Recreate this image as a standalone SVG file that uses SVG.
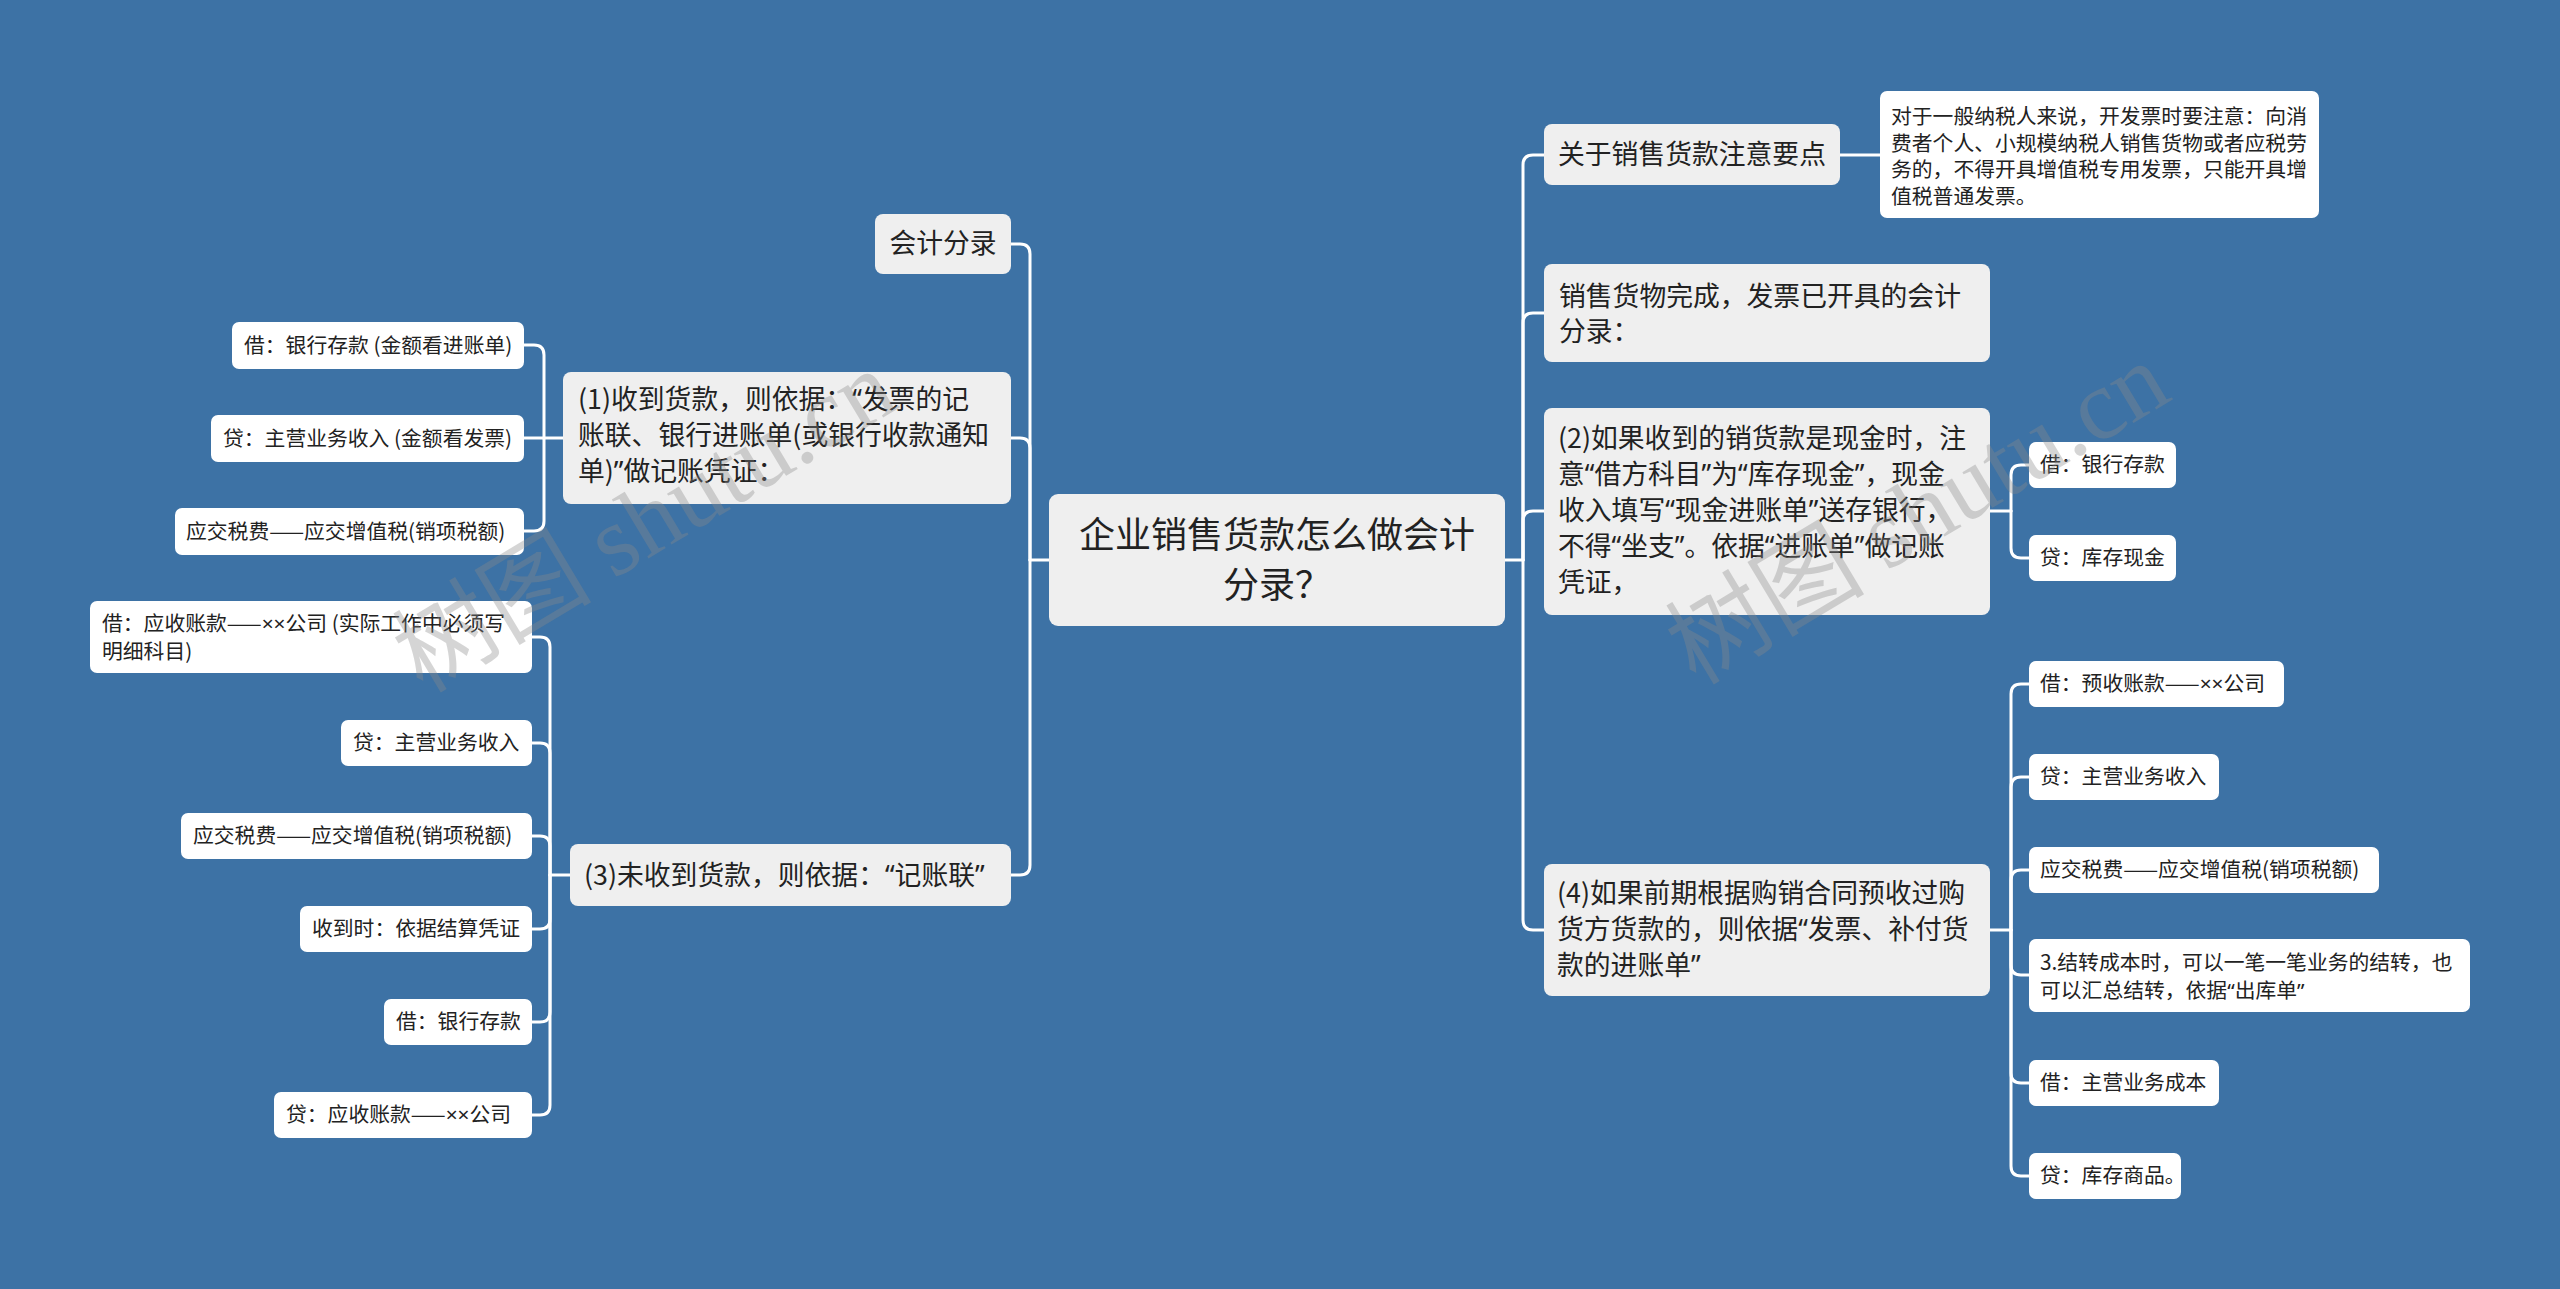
<svg xmlns="http://www.w3.org/2000/svg" width="2560" height="1289" viewBox="0 0 2560 1289">
<style>
  text { font-family: "Noto Sans CJK SC", "Noto Sans", sans-serif; fill: #222; }
  .q { font-family: "Noto Sans", "DejaVu Sans", sans-serif; }
  .bg { fill: #3d72a5; }
  .main rect { fill: #efefef; }
  .leaf rect { fill: #ffffff; }
  .t36 { font-size: 36px; }
  .t26 { font-size: 26.8px; }
  .t21 { font-size: 20.8px; }
  .conn path { fill: none; stroke: #ffffff; stroke-width: 3; stroke-linecap: round; stroke-linejoin: round; }
  .wm { font-size: 100px; fill: #8a8a8a; opacity: 0.35; }
  .wml { font-family: "Liberation Serif", serif; }
</style>
<rect class="bg" x="0" y="0" width="2560" height="1289"/>

<g id="connectors" class="conn">
  <path d="M1049,560 H1030"/>
  <path d="M1030,560 V254 Q1030,244 1020,244 H1011"/>
  <path d="M1030,560 V448 Q1030,438 1020,438 H1011"/>
  <path d="M1030,560 V865 Q1030,875 1020,875 H1011"/>
  <path d="M1505,560 H1523"/>
  <path d="M1523,560 V165 Q1523,155 1533,155 H1544"/>
  <path d="M1523,560 V323 Q1523,313 1533,313 H1544"/>
  <path d="M1523,560 V521 Q1523,511 1533,511 H1544"/>
  <path d="M1523,560 V920 Q1523,930 1533,930 H1544"/>
  <path d="M1840,155 H1880"/>
  <path d="M1990,511 H2011"/>
  <path d="M2011,511 V475 Q2011,465 2021,465 H2029"/>
  <path d="M2011,511 V548 Q2011,558 2021,558 H2029"/>
  <path d="M1990,930 H2011"/>
  <path d="M2011,930 V694 Q2011,684 2021,684 H2029"/>
  <path d="M2011,930 V787 Q2011,777 2021,777 H2029"/>
  <path d="M2011,930 V880 Q2011,870 2021,870 H2029"/>
  <path d="M2011,930 V965 Q2011,975 2021,975 H2029"/>
  <path d="M2011,930 V1073 Q2011,1083 2021,1083 H2029"/>
  <path d="M2011,930 V1166 Q2011,1176 2021,1176 H2029"/>
  <path d="M563,438 H544"/>
  <path d="M544,438 V355 Q544,345 534,345 H524"/>
  <path d="M544,438 H524"/>
  <path d="M544,438 V521 Q544,531 534,531 H524"/>
  <path d="M570,875 H550"/>
  <path d="M550,875 V647 Q550,637 540,637 H532"/>
  <path d="M550,875 V753 Q550,743 540,743 H532"/>
  <path d="M550,875 V846 Q550,836 540,836 H532"/>
  <path d="M550,875 V919 Q550,929 540,929 H532"/>
  <path d="M550,875 V1012 Q550,1022 540,1022 H532"/>
  <path d="M550,875 V1105 Q550,1115 540,1115 H532"/>
</g>

<g id="root" class="main">
  <rect x="1049" y="494" width="456" height="132" rx="9"/>
  <text class="t36" x="1277" y="548" text-anchor="middle">企业销售货款怎么做会计</text>
  <text class="t36" x="1277" y="598" text-anchor="middle">分录？</text>
</g>

<g id="n-kjfl" class="main">
  <rect x="875" y="214" width="136" height="60" rx="8"/>
  <text class="t26" x="943" y="253" text-anchor="middle">会计分录</text>
</g>
<g id="n-1" class="main">
  <rect x="563" y="372" width="448" height="132" rx="8"/>
  <text class="t26" x="578" y="409">(1)收到货款，则依据：<tspan class="q">“</tspan>发票的记</text>
  <text class="t26" x="578" y="445">账联、银行进账单(或银行收款通知</text>
  <text class="t26" x="578" y="481">单)<tspan class="q">”</tspan>做记账凭证：</text>
</g>
<g id="n-1a" class="leaf">
  <rect x="232" y="322" width="292" height="47" rx="7"/>
  <text class="t21" x="244" y="353">借：银行存款 (金额看进账单)</text>
</g>
<g id="n-1b" class="leaf">
  <rect x="211" y="415" width="313" height="47" rx="7"/>
  <text class="t21" x="223" y="446">贷：主营业务收入 (金额看发票)</text>
</g>
<g id="n-1c" class="leaf">
  <rect x="175" y="508" width="349" height="47" rx="7"/>
  <text class="t21" x="186" y="539">应交税费——应交增值税(销项税额)</text>
</g>
<g id="n-3" class="main">
  <rect x="570" y="844" width="441" height="62" rx="8"/>
  <text class="t26" x="584" y="885">(3)未收到货款，则依据：<tspan class="q">“</tspan>记账联<tspan class="q">”</tspan></text>
</g>
<g id="n-3a" class="leaf">
  <rect x="90" y="601" width="442" height="72" rx="7"/>
  <text class="t21" x="102" y="631">借：应收账款——<tspan class="q">××</tspan>公司 (实际工作中必须写</text>
  <text class="t21" x="102" y="659">明细科目)</text>
</g>
<g id="n-3b" class="leaf">
  <rect x="341" y="720" width="191" height="46" rx="7"/>
  <text class="t21" x="353" y="750">贷：主营业务收入</text>
</g>
<g id="n-3c" class="leaf">
  <rect x="181" y="813" width="351" height="46" rx="7"/>
  <text class="t21" x="193" y="843">应交税费——应交增值税(销项税额)</text>
</g>
<g id="n-3d" class="leaf">
  <rect x="300" y="906" width="232" height="46" rx="7"/>
  <text class="t21" x="312" y="936">收到时：依据结算凭证</text>
</g>
<g id="n-3e" class="leaf">
  <rect x="384" y="999" width="148" height="46" rx="7"/>
  <text class="t21" x="396" y="1029">借：银行存款</text>
</g>
<g id="n-3f" class="leaf">
  <rect x="274" y="1092" width="258" height="46" rx="7"/>
  <text class="t21" x="286" y="1122">贷：应收账款——<tspan class="q">××</tspan>公司</text>
</g>

<g id="n-gy" class="main">
  <rect x="1544" y="124" width="296" height="61" rx="8"/>
  <text class="t26" x="1558" y="164">关于销售货款注意要点</text>
</g>
<g id="n-gy-note" class="leaf">
  <rect x="1880" y="91" width="439" height="127" rx="7"/>
  <text class="t21" x="1891" y="124">对于一般纳税人来说，开发票时要注意：向消</text>
  <text class="t21" x="1891" y="151">费者个人、小规模纳税人销售货物或者应税劳</text>
  <text class="t21" x="1891" y="177">务的，不得开具增值税专用发票，只能开具增</text>
  <text class="t21" x="1891" y="204">值税普通发票。</text>
</g>
<g id="n-xs" class="main">
  <rect x="1544" y="264" width="446" height="98" rx="8"/>
  <text class="t26" x="1559" y="306">销售货物完成，发票已开具的会计</text>
  <text class="t26" x="1559" y="341">分录：</text>
</g>
<g id="n-2" class="main">
  <rect x="1544" y="408" width="446" height="207" rx="8"/>
  <text class="t26" x="1558" y="448">(2)如果收到的销货款是现金时，注</text>
  <text class="t26" x="1558" y="484">意<tspan class="q">“</tspan>借方科目<tspan class="q">”</tspan>为<tspan class="q">“</tspan>库存现金<tspan class="q">”</tspan>，现金</text>
  <text class="t26" x="1558" y="520">收入填写<tspan class="q">“</tspan>现金进账单<tspan class="q">”</tspan>送存银行，</text>
  <text class="t26" x="1558" y="556">不得<tspan class="q">“</tspan>坐支<tspan class="q">”</tspan>。依据<tspan class="q">“</tspan>进账单<tspan class="q">”</tspan>做记账</text>
  <text class="t26" x="1558" y="592">凭证，</text>
</g>
<g id="n-2a" class="leaf">
  <rect x="2029" y="442" width="147" height="46" rx="7"/>
  <text class="t21" x="2040" y="472">借：银行存款</text>
</g>
<g id="n-2b" class="leaf">
  <rect x="2029" y="535" width="147" height="46" rx="7"/>
  <text class="t21" x="2040" y="565">贷：库存现金</text>
</g>
<g id="n-4" class="main">
  <rect x="1544" y="864" width="446" height="132" rx="8"/>
  <text class="t26" x="1557" y="903">(4)如果前期根据购销合同预收过购</text>
  <text class="t26" x="1557" y="939">货方货款的，则依据<tspan class="q">“</tspan>发票、补付货</text>
  <text class="t26" x="1557" y="975">款的进账单<tspan class="q">”</tspan></text>
</g>
<g id="n-4a" class="leaf">
  <rect x="2029" y="661" width="255" height="46" rx="7"/>
  <text class="t21" x="2040" y="691">借：预收账款——<tspan class="q">××</tspan>公司</text>
</g>
<g id="n-4b" class="leaf">
  <rect x="2029" y="754" width="190" height="46" rx="7"/>
  <text class="t21" x="2040" y="784">贷：主营业务收入</text>
</g>
<g id="n-4c" class="leaf">
  <rect x="2029" y="847" width="350" height="46" rx="7"/>
  <text class="t21" x="2040" y="877">应交税费——应交增值税(销项税额)</text>
</g>
<g id="n-4d" class="leaf">
  <rect x="2029" y="939" width="441" height="73" rx="7"/>
  <text class="t21" x="2040" y="970">3.结转成本时，可以一笔一笔业务的结转，也</text>
  <text class="t21" x="2040" y="998">可以汇总结转，依据<tspan class="q">“</tspan>出库单<tspan class="q">”</tspan></text>
</g>
<g id="n-4e" class="leaf">
  <rect x="2029" y="1060" width="190" height="46" rx="7"/>
  <text class="t21" x="2040" y="1090">借：主营业务成本</text>
</g>
<g id="n-4f" class="leaf">
  <rect x="2029" y="1153" width="152" height="46" rx="7"/>
  <text class="t21" x="2040" y="1183">贷：库存商品。</text>
</g>

<g id="watermark">
  <text class="wm" x="645" y="555" text-anchor="middle" transform="rotate(-31 645 522)">树图 <tspan class="wml">shutu.cn</tspan></text>
  <text class="wm" x="1918" y="547" text-anchor="middle" transform="rotate(-31 1918 514)">树图 <tspan class="wml">shutu.cn</tspan></text>
</g>
</svg>
